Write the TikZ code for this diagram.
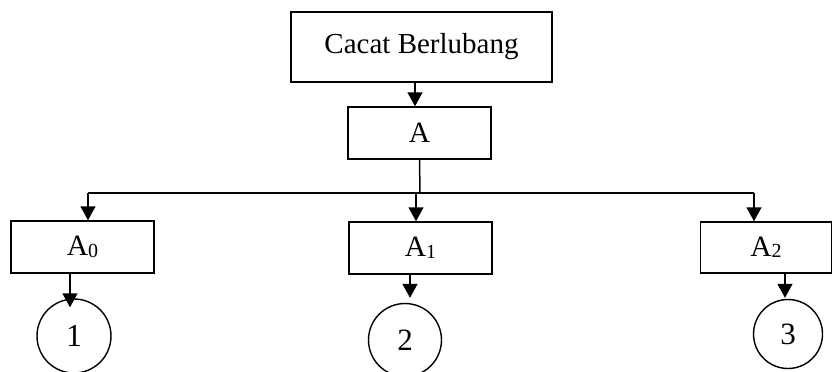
\documentclass[tikz,border=0pt]{standalone}
\usepackage{fontspec}
\setmainfont{Liberation Serif}
\usetikzlibrary{arrows.meta}
\begin{document}
\begin{tikzpicture}[x=1pt,y=1pt,
  box/.style={draw,line width=1.5pt,minimum width=143pt,minimum height=52pt,inner sep=0pt,font=\fontsize{29.5}{32}\selectfont},
  circ/.style={draw,circle,line width=1.4pt,inner sep=0pt,font=\fontsize{31}{34}\selectfont},
  arr/.style={line width=1.5pt,-{Triangle[length=14pt,width=15pt]}},
  ln/.style={line width=1.5pt}]
\useasboundingbox (0,0) rectangle (833,-372);
\newcommand{\sbs}[1]{\raisebox{-1.5pt}{\fontsize{20}{20}\selectfont #1}}
\node[box,minimum width=261pt,minimum height=70pt,font=\fontsize{29}{34}\selectfont] (top) at (421.5,-47) {Cacat Berlubang};
\node[box] (A) at (419.5,-133) {A};
\node[box] (A0) at (82.5,-247) {A\sbs{0}};
\node[box] (A1) at (420.5,-248) {A\sbs{1}};
\node[box,minimum width=131pt,minimum height=51pt] (A2) at (766,-247.5) {A\sbs{2}};
\node[circ,minimum size=74pt,font=\fontsize{32}{34}\selectfont] (c1) at (74,-336) {1};
\node[circ,minimum size=73pt] (c2) at (405,-340) {2};
\node[circ,minimum size=69pt] (c3) at (788,-334) {3};
\draw[arr] ([xshift=-6.5pt]top.south) -- ([xshift=-4.5pt]A.north);
\coordinate (j) at (420,-193);
\coordinate (L) at (88,-193);
\coordinate (m) at (410,-193);
\coordinate (R) at (754,-193);
\draw[ln] (A.south) -- (j);
\draw[line width=2.4pt] (L) -- (m);
\draw[line width=1.2pt] (m) -- (R);
\draw[arr] (L) -- (L |- A0.north);
\draw[arr] (416,-193) -- (A1.north -| 416,0);
\draw[arr] (R) -- (R |- A2.north);
\draw[arr] ([xshift=-12.5pt]A0.south) -- ([xshift=-4pt,yshift=-9pt]c1.north);
\draw[arr] ([xshift=-10.5pt]A1.south) -- ([xshift=5pt,yshift=5pt]c2.north);
\draw[arr] ([xshift=19pt]A2.south) -- ([xshift=-3pt,yshift=1pt]c3.north);
\end{tikzpicture}
\end{document}
